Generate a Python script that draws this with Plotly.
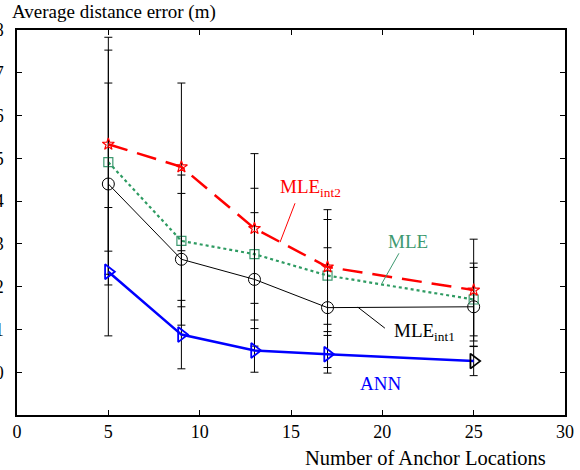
import plotly.graph_objects as go

anchors = [5, 9, 13, 17, 25]

mle_int2 = [5.33, 4.80, 3.36, 2.46, 1.92]
mle_int2_err = [2.50, 1.96, 1.75, 1.34, 1.19]

mle = [4.91, 3.07, 2.76, 2.26, 1.70]
mle_err = [2.62, 1.54, 1.54, 1.31, 0.85]

mle_int1 = [4.40, 2.64, 2.17, 1.51, 1.53]
mle_int1_err = [2.36, 1.54, 1.56, 1.40, 0.92]

ann = [2.35, 0.88, 0.51, 0.42, 0.26]
ann_err = [1.50, 0.80, 0.51, 0.44, 0.34]

x_ticks = [0, 5, 10, 15, 20, 25, 30]
y_ticks = [0, 1, 2, 3, 4, 5, 6, 7, 8]

FONT = "Liberation Serif, Times New Roman, serif"

def eb(vals):
    return dict(type="data", array=vals, visible=True, color="black", thickness=1, width=4)

fig = go.Figure()

fig.add_trace(go.Scatter(
    x=anchors, y=mle_int1, mode="lines+markers", name="MLE_int1",
    line=dict(color="black", width=1),
    marker=dict(symbol="circle-open", size=12, color="black", line=dict(width=1)),
    error_y=eb(mle_int1_err)))

fig.add_trace(go.Scatter(
    x=anchors, y=mle, mode="lines+markers", name="MLE",
    line=dict(color="#2e9b62", width=2.2, dash="dot"),
    marker=dict(symbol="square-open", size=9, color="#3d9970", line=dict(width=1.2)),
    error_y=eb(mle_err)))

fig.add_trace(go.Scatter(
    x=anchors, y=mle_int2, mode="lines+markers", name="MLE_int2",
    line=dict(color="red", width=2.5, dash="20px,10px"),
    marker=dict(symbol="star-open", size=9, color="red", line=dict(width=1.2)),
    error_y=eb(mle_int2_err)))

fig.add_trace(go.Scatter(
    x=anchors, y=ann, mode="lines+markers", name="ANN",
    line=dict(color="blue", width=2.5),
    marker=dict(symbol="triangle-right-open", size=13,
                color=["blue", "blue", "blue", "blue", "black"],
                line=dict(width=1.8, color=["blue", "blue", "blue", "blue", "black"])),
    error_y=eb(ann_err)))

annotations = [
    dict(x=16.04, y=4.30, text="MLE<sub>int2</sub>", font=dict(color="red", size=19, family=FONT)),
    dict(x=21.4, y=3.06, text="MLE", font=dict(color="#3d9970", size=19, family=FONT)),
    dict(x=22.3, y=0.94, text="MLE<sub>int1</sub>", font=dict(color="black", size=19, family=FONT)),
    dict(x=19.9, y=-0.26, text="ANN", font=dict(color="blue", size=19, family=FONT)),
]
for a in annotations:
    a.update(xref="x", yref="y", showarrow=False, xanchor="center", yanchor="middle")

annotations.append(dict(xref="paper", yref="paper", x=-0.0128, y=1.047, xanchor="left", yanchor="middle",
                        text="Average distance error (m)", showarrow=False,
                        font=dict(size=19, family=FONT, color="black")))
annotations.append(dict(xref="paper", yref="paper", x=0.969, y=-0.112, xanchor="right", yanchor="middle",
                        text="Number of Anchor Locations", showarrow=False,
                        font=dict(size=20.5, family=FONT, color="black")))

shapes = [
    dict(type="line", xref="x", yref="y", x0=15.22, y0=3.95, x1=14.40, y1=3.04, line=dict(color="red", width=1)),
    dict(type="line", xref="x", yref="y", x0=20.91, y0=2.78, x1=19.98, y1=2.08, line=dict(color="#3d9970", width=1)),
    dict(type="line", xref="x", yref="y", x0=18.66, y0=1.52, x1=20.14, y1=1.03, line=dict(color="black", width=1)),
]

fig.update_layout(
    width=580, height=470,
    margin=dict(l=17, r=15, t=30, b=55, autoexpand=False),
    plot_bgcolor="white", paper_bgcolor="white",
    showlegend=False,
    annotations=annotations,
    shapes=shapes,
    font=dict(family=FONT, size=17, color="black"),
)

fig.update_xaxes(range=[0, 30], tickvals=x_ticks, ticks="inside", ticklen=5, tickcolor="black",
                 showline=True, linecolor="black", linewidth=1.5, mirror="ticks",
                 showgrid=False, zeroline=False, tickfont=dict(size=18, family=FONT),
                 automargin=False)
fig.update_yaxes(range=[-1, 8], tickvals=y_ticks, ticks="inside", ticklen=5, tickcolor="black",
                 showline=True, linecolor="black", linewidth=1.5, mirror="ticks",
                 showgrid=False, zeroline=False, tickfont=dict(size=18, family=FONT),
                 ticklabelstandoff=8, automargin=False)

fig.write_html("out.html", config={"displayModeBar": False},
               post_script="document.body.style.margin='0px';document.body.style.padding='0px';")
